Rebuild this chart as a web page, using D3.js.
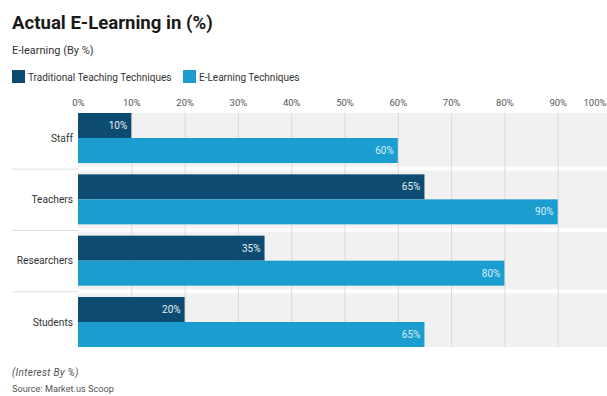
<!DOCTYPE html>
<html>
<head>
<meta charset="utf-8">
<script src="https://cdn.jsdelivr.net/npm/d3@7"></script>
<style>
	body { margin: 0; background: #fff; }
	svg { display: block; font-family: Roboto, "Noto Sans", sans-serif; }
</style>
</head>
<body>
<script>
var categories = ["Staff", "Teachers", "Researchers", "Students"];
var seriesNames = ["Traditional Teaching Techniques", "E-Learning Techniques"];
var traditional = [10, 65, 35, 20];
var elearning = [60, 90, 80, 65];
var xTicks = [0, 10, 20, 30, 40, 50, 60, 70, 80, 90, 100];

var svg = d3.select("body").append("svg")
	.attr("width", 607)
	.attr("height", 396);

var colors = d3.scaleOrdinal()
	.domain(seriesNames)
	.range(["#0d4c70", "#1b9dcf"]);

var rows = categories.map(function(c, i) {
	return {key: c, values: [traditional[i], elearning[i]]};
});

// header
svg.append("text")
	.attr("x", 12).attr("y", 29)
	.attr("font-size", 18.6).attr("font-weight", "bold")
	.attr("fill", "#1a1a1a")
	.text("Actual E-Learning in (%)");

svg.append("text")
	.attr("x", 12).attr("y", 54)
	.attr("font-size", 11).attr("fill", "#333")
	.text("E-learning (By %)");

var legend = svg.append("g").attr("font-size", 10).attr("fill", "#333");
var legendX = [12, 183];
seriesNames.forEach(function(s, i) {
	var g = legend.append("g").attr("transform", "translate(" + legendX[i] + ",70)");
	g.append("rect").attr("width", 13).attr("height", 13).attr("fill", colors(s));
	g.append("text").attr("x", 16).attr("y", 10.5).text(s);
});

// scales
var x = d3.scaleLinear().domain([0, 100]).range([78, 611]);
var y = d3.scaleBand().domain(categories).range([113, 347])
	.paddingInner(0.185).paddingOuter(0);
var ySub = d3.scaleBand().domain([0, 1]).range([0, y.bandwidth()]);

// plot background
svg.append("rect")
	.attr("x", x(0)).attr("y", 113)
	.attr("width", 607 - x(0)).attr("height", 347 - 113)
	.attr("fill", "#f1f1f1");

var seps = categories.slice(1).map(function(c) {
	return y(c) - y.step() * y.paddingInner() / 2;
});
svg.selectAll(".sepWhite").data(seps).enter().append("rect")
	.attr("class", "sepWhite")
	.attr("x", x(0)).attr("y", function(d){ return d - 2; })
	.attr("width", 607 - x(0)).attr("height", 4)
	.attr("fill", "#fff");

// grid
svg.selectAll(".grid").data(xTicks.slice(1)).enter().append("line")
	.attr("class", "grid")
	.attr("x1", function(d){ return x(d) + 0.5; })
	.attr("x2", function(d){ return x(d) + 0.5; })
	.attr("y1", 113).attr("y2", 347)
	.attr("stroke", "#d9d9d9");

svg.selectAll(".sepLeft").data(seps).enter().append("line")
	.attr("class", "sepLeft")
	.attr("x1", 12).attr("x2", x(0))
	.attr("y1", function(d){ return d + 0.5; })
	.attr("y2", function(d){ return d + 0.5; })
	.attr("stroke", "#dcdcdc");

// top axis
var axis = svg.append("g")
	.attr("transform", "translate(0,106)")
	.call(d3.axisTop(x).tickValues(xTicks).tickSize(0).tickPadding(0)
		.tickFormat(function(d){ return d + "%"; }));
axis.select(".domain").remove();
axis.selectAll("text")
	.attr("font-size", 9.5)
	.attr("font-family", "Roboto, sans-serif")
	.attr("fill", "#555");
// last label would fall off the edge: pull it inside
axis.selectAll(".tick").filter(function(d){ return d === 100; }).select("text")
	.attr("text-anchor", "end")
	.attr("x", 606 - x(100));

// bars
var groups = svg.selectAll(".row").data(rows).enter().append("g")
	.attr("class", "row")
	.attr("transform", function(d){ return "translate(0," + y(d.key) + ")"; });

groups.selectAll("rect").data(function(d){ return d.values; }).enter().append("rect")
	.attr("x", x(0))
	.attr("y", function(d, i){ return ySub(i); })
	.attr("width", function(d){ return x(d) - x(0); })
	.attr("height", ySub.bandwidth())
	.attr("fill", function(d, i){ return colors(seriesNames[i]); });

groups.selectAll(".val").data(function(d){ return d.values; }).enter().append("text")
	.attr("class", "val")
	.attr("x", function(d){ return x(d) - 4; })
	.attr("y", function(d, i){ return ySub(i) + ySub.bandwidth() / 2; })
	.attr("dy", "0.35em")
	.attr("text-anchor", "end")
	.attr("font-size", 10)
	.attr("fill", function(d, i){ return i ? "#d8f1fa" : "#e8f2f7"; })
	.text(function(d){ return d + "%"; });

// category labels
svg.selectAll(".cat").data(categories).enter().append("text")
	.attr("class", "cat")
	.attr("x", 73)
	.attr("y", function(d){ return y(d) + y.bandwidth() / 2; })
	.attr("dy", "0.35em")
	.attr("text-anchor", "end")
	.attr("font-size", 10.2)
	.attr("fill", "#333")
	.text(function(d){ return d; });

// footer
svg.append("text")
	.attr("x", 12).attr("y", 376)
	.attr("font-size", 10).attr("font-style", "italic").attr("fill", "#555")
	.attr("letter-spacing", 0.3)
	.text("(Interest By %)");
svg.append("text")
	.attr("x", 12).attr("y", 392)
	.attr("font-size", 9.2).attr("fill", "#555")
	.text("Source: Market.us Scoop");
</script>
</body>
</html>
